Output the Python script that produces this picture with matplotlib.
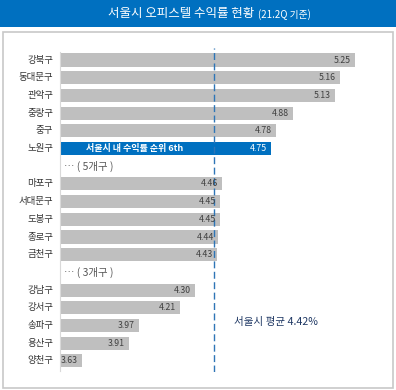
import matplotlib
matplotlib.use("Agg")
import matplotlib.pyplot as plt
from matplotlib.patches import Rectangle

plt.rcParams['font.family'] = ['Noto Sans CJK KR', 'DejaVu Sans']

# Data
labels = ["강북구", "동대문구", "관악구", "중랑구", "중구", "노원구", None,
          "마포구", "서대문구", "도봉구", "종로구", "금천구", None,
          "강남구", "강서구", "송파구", "용산구", "양천구"]
values = [5.25, 5.16, 5.13, 4.88, 4.78, 4.75, None,
          4.46, 4.45, 4.45, 4.44, 4.43, None,
          4.30, 4.21, 3.97, 3.91, 3.63]
gap_texts = ["… ( 5개구 )", "… ( 3개구 )"]
highlight = "노원구"
highlight_text = "서울시 내 수익률 순위 6th"
seoul_avg = 4.42
avg_label = "서울시 평균 4.42%"
title_main = "서울시 오피스텔 수익률 현황"
title_sub = "(21.2Q 기준)"

W, H = 396, 390
fig = plt.figure(figsize=(W / 100, H / 100), dpi=100)
fig.patch.set_facecolor("white")

# title bar
fig.add_artist(Rectangle((0, 1 - 27 / H), 1, 27 / H, transform=fig.transFigure,
                         facecolor="#0070c0", edgecolor="none"))
fig.text(254 / W, 1 - 14 / H, title_main, color="white", fontsize=9,
         ha="right", va="center")
fig.text(258 / W, 1 - 14.5 / H, title_sub, color="white", fontsize=7,
         ha="left", va="center")
# frame
fig.add_artist(Rectangle((3 / W, 2 / H), (W - 6) / W, (H - 34) / H,
                         transform=fig.transFigure, facecolor="none",
                         edgecolor="#c8c8c8", linewidth=1.2))

x0, x1 = 60, 380
y_top, y_bot = 48, 372
row0, step = 60, 17.7
ax = fig.add_axes([x0 / W, 1 - y_bot / H, (x1 - x0) / W, (y_bot - y_top) / H])
ax.set_facecolor("none")
xmin = 3.5
scale = 168.5
ax.set_xlim(xmin, xmin + (x1 - x0) / scale)
ax.set_ylim((y_bot - row0) / step, -(row0 - y_top) / step)

gi = 0
for i, (lab, v) in enumerate(zip(labels, values)):
    if lab is None:
        ax.text(xmin + 4 / scale, i, gap_texts[gi], fontsize=7.5, color="#555555",
                ha="left", va="center")
        gi += 1
        continue
    hl = lab == highlight
    ax.barh(i, v - xmin, left=xmin, height=0.74,
            color="#0070c0" if hl else "#bfbfbf", edgecolor="none")
    ax.text(v - 4 / scale, i, f"{v:.2f}", fontsize=6.3,
            color="white" if hl else "#404040", ha="right", va="center")
    ax.text(xmin - 7 / scale, i, lab, fontsize=6.8, color="#333333",
            ha="right", va="center")
    if hl:
        ax.text(xmin + 75 / scale, i, highlight_text, fontsize=6.5, color="white",
                ha="center", va="center", fontweight="bold")

ax.axvline(seoul_avg - 1.5 / scale, color="#2e75b6", linestyle=(0, (5, 2.5)),
           linewidth=1.0)
ax.text(seoul_avg + 19 / scale, 14.8, avg_label, fontsize=7.6, color="#1f3864",
        ha="left", va="center")

for s in ["top", "right", "bottom"]:
    ax.spines[s].set_visible(False)
ax.spines["left"].set_color("#d9d9d9")
ax.spines["left"].set_bounds(-0.45, 17.55)
ax.set_xticks([])
ax.set_yticks([])

fig.savefig("out.png", dpi=100)
